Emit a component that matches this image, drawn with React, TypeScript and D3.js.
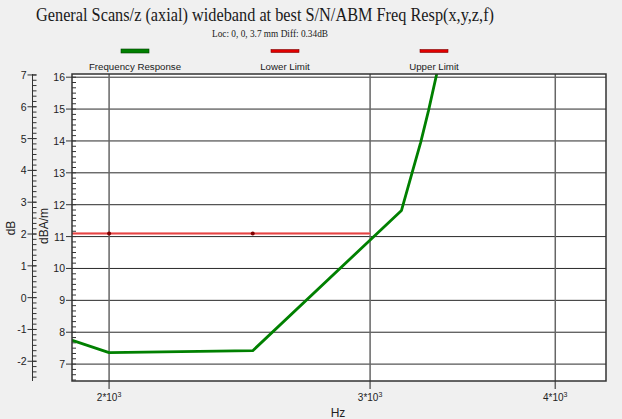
import React from "react";
import * as d3 from "d3";

const TITLE = "General Scans/z (axial) wideband at best S/N/ABM Freq Resp(x,y,z,f)";
const SUBTITLE = "Loc: 0, 0, 3.7 mm Diff: 0.34dB";

const respFreq = [1880, 2000, 2500, 3150, 3200, 3245, 3285, 3340];
const respVal = [7.78, 7.36, 7.42, 11.82, 12.95, 13.95, 14.95, 16.45];

const lowerFreq = [1800, 2000, 2500, 3000];
const lowerVal = [11.1, 11.1, 11.1, 11.1];
const lowerMarkerFreq = [2000, 2500];

const xTicks = [2000, 3000, 4000];
const xTickExp = ["2", "3", "4"];
const rightTicks = [7, 8, 9, 10, 11, 12, 13, 14, 15, 16];
const leftTicks = [-2, -1, 0, 1, 2, 3, 4, 5, 6, 7];

const legendItems = ["Frequency Response", "Lower Limit", "Upper Limit"];
const legendColors = ["#008000", "#e00000", "#e00000"];

export default function App() {
  const W = 622, H = 419;
  const L = 72, R = 606, T = 74, B = 381;
  const x = d3.scaleLog().domain([1888, 4328]).range([L, R]);
  const y = d3.scaleLinear().domain([6.47, 16.1]).range([B, T]);
  const yl = d3.scaleLinear().domain([-2.62, 7.03]).range([B, T]);
  const dbX = 32.5;

  const line = d3.line<[number, number]>().x(d => x(d[0])).y(d => y(d[1]));
  const resp: [number, number][] = respFreq.map((f, i) => [f, respVal[i]]);
  const lower: [number, number][] = lowerFreq.map((f, i) => [f, lowerVal[i]]);

  const rightMinor: number[] = [];
  for (let v = 6; v <= 17; v += 1 / 6) {
    const vv = Math.round(v * 1000) / 1000;
    if (vv >= 6.47 && vv <= 16.1) rightMinor.push(vv);
  }
  const leftMinor: number[] = [];
  for (let v = -3; v <= 8; v += 1 / 6) {
    const vv = Math.round(v * 1000) / 1000;
    if (vv >= -2.62 && vv <= 7.03) leftMinor.push(vv);
  }

  const sans = "'Liberation Sans', Arial, sans-serif";
  const serif = "'Liberation Serif', 'Times New Roman', serif";
  const legendX = [135, 285, 434];

  return (
    <svg width={W} height={H} style={{ position: "absolute", left: 0, top: 0, background: "#f0f0f0" }}>
      <defs>
        <clipPath id="plotclip">
          <rect x={L} y={T} width={R - L} height={B - T} />
        </clipPath>
      </defs>
      <rect x={0} y={0} width={W} height={H} fill="#f0f0f0" />
      <text x={265} y={21} textAnchor="middle" fontFamily={serif} fontSize={18} fill="#1a1a1a"
        textLength={458} lengthAdjust="spacingAndGlyphs">{TITLE}</text>
      <text x={270} y={37} textAnchor="middle" fontFamily={serif} fontSize={9.3} fill="#1a1a1a">{SUBTITLE}</text>

      {legendItems.map((name, i) => (
        <g key={name}>
          <rect x={legendX[i] - 14} y={i === 0 ? 49 : 49.5} width={28} height={i === 0 ? 4 : 3}
            fill={legendColors[i]} stroke={i === 0 ? "#004000" : "#800000"} strokeWidth={0.6} />
          <text x={legendX[i]} y={70} textAnchor="middle" fontFamily={sans} fontSize={9.7} fill="#1a1a1a">{name}</text>
        </g>
      ))}

      <rect x={L} y={T} width={R - L} height={B - T} fill="#ffffff" />

      {rightTicks.map(v => (
        <line key={"hg" + v} x1={L} x2={R} y1={y(v)} y2={y(v)} stroke="#2a2a2a" strokeWidth={1} />
      ))}
      {xTicks.map(f => (
        <line key={"vg" + f} x1={x(f)} x2={x(f)} y1={T} y2={B + 8} stroke="#666" strokeWidth={1.5} />
      ))}
      {rightMinor.map(v => (
        <line key={"rm" + v} x1={L} x2={L + 4} y1={y(v)} y2={y(v)} stroke="#333" strokeWidth={1} />
      ))}

      <g clipPath="url(#plotclip)">
        <path d={line(lower) || ""} fill="none" stroke="#f07878" strokeWidth={2.5} />
        <path d={line(lower) || ""} fill="none" stroke="#e03030" strokeWidth={0.8} />
        {lowerMarkerFreq.map(f => (
          <circle key={"lm" + f} cx={x(f)} cy={y(lowerVal[0])} r={2} fill="#800000" />
        ))}
        <path d={line(resp) || ""} fill="none" stroke="#008000" strokeWidth={2.8} strokeLinejoin="round" />
      </g>

      <rect x={L} y={T} width={R - L} height={B - T} fill="none" stroke="#333" strokeWidth={1.5} />

      {rightTicks.map(v => (
        <g key={"rt" + v}>
          <line x1={L - 6} x2={L} y1={y(v)} y2={y(v)} stroke="#333" strokeWidth={1} />
          <text x={L - 7} y={y(v) + 4} textAnchor="end" fontFamily={sans} fontSize={10.5} fill="#222">{v}</text>
        </g>
      ))}

      <line x1={dbX} x2={dbX} y1={T} y2={B} stroke="#333" strokeWidth={1} />
      {leftMinor.map(v => (
        <line key={"lmn" + v} x1={dbX} x2={dbX + 4} y1={yl(v)} y2={yl(v)} stroke="#333" strokeWidth={1} />
      ))}
      {leftTicks.map(v => (
        <g key={"lt" + v}>
          <line x1={dbX - 5} x2={dbX + 4} y1={yl(v)} y2={yl(v)} stroke="#333" strokeWidth={1} />
          <text x={dbX - 6} y={yl(v) + 4} textAnchor="end" fontFamily={sans} fontSize={10.5} fill="#222">{v}</text>
        </g>
      ))}

      {xTicks.map((f, i) => (
        <text key={"xl" + f} x={x(f)} y={401} textAnchor="middle" fontFamily={sans} fontSize={10} fill="#222">
          {xTickExp[i] + "*10"}
          <tspan dy={-4} fontSize={7}>3</tspan>
        </text>
      ))}
      <text x={338} y={417} textAnchor="middle" fontFamily={sans} fontSize={12} fill="#222">Hz</text>

      <text transform="translate(15,228) rotate(-90)" textAnchor="middle" fontFamily={sans} fontSize={12} fill="#222">dB</text>
      <text transform="translate(48,226) rotate(-90)" textAnchor="middle" fontFamily={sans} fontSize={12} fill="#222">dBA/m</text>
    </svg>
  );
}
